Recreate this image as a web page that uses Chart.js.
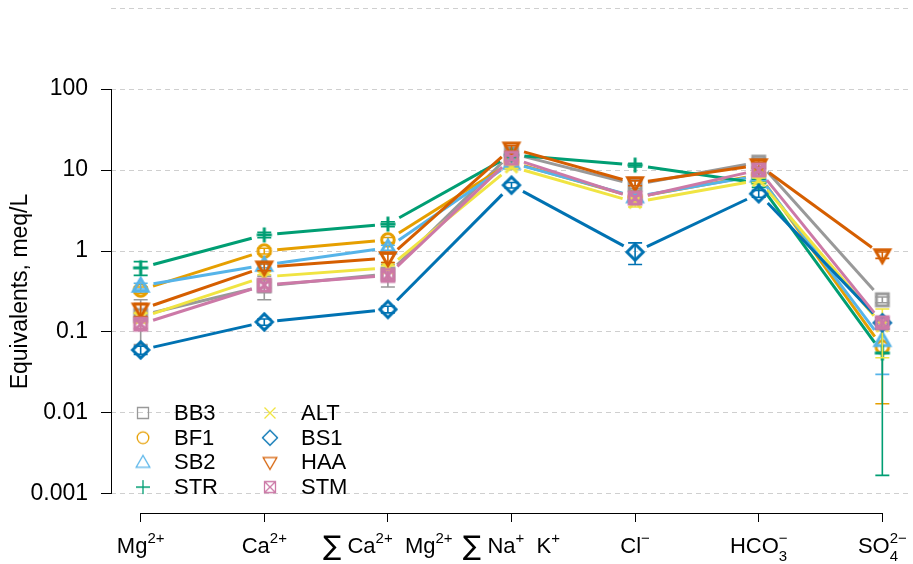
<!DOCTYPE html>
<html>
<head>
<meta charset="utf-8">
<script src="https://cdn.jsdelivr.net/npm/chart.js@4/dist/chart.umd.min.js"></script>
<style>
  html, body { margin: 0; padding: 0; background: #fff; }
  #wrap { width: 913px; height: 564px; }
</style>
</head>
<body>
<div id="wrap"><canvas id="chart" width="913" height="564"></canvas></div>
<script>
// ---------- DATA ----------
const categories = ["Mg^{2+}", "Ca^{2+}", "∑ Ca^{2+}  Mg^{2+}", "∑ Na^{+}  K^{+}", "Cl^{−}", "HCO_{3}^{−}", "SO_{4}^{2−}"];
const sites      = ["BB3", "BF1", "SB2", "STR", "ALT", "BS1", "HAA", "STM"];
const yTicks     = [0.001, 0.01, 0.1, 1, 10, 100, 1000];
const yTickText  = ["0.001", "0.01", "0.1", "1", "10", "100", ""];

// mean equivalents per site (meq/L)
const valBB3 = [0.16, 0.37, 0.52, 16.0, 6.6, 12.5, 0.25];
const valBF1 = [0.33, 1.00, 1.37, 12.5, 4.6, 8.7, 0.065];
const valSB2 = [0.37, 0.67, 1.10, 12.2, 4.7, 8.5, 0.079];
const valSTR = [0.62, 1.58, 2.15, 15.3, 11.5, 6.9, 0.055];
const valALT = [0.15, 0.48, 0.62, 11.0, 4.0, 7.5, 0.12];
const valBS1 = [0.060, 0.133, 0.19, 6.5, 0.97, 5.1, 0.13];
const valHAA = [0.19, 0.63, 0.82, 18.5, 6.9, 11.5, 0.89];
const valSTM = [0.125, 0.38, 0.50, 14.0, 4.5, 10.0, 0.13];

// standard errors
const seBB3 = [0.09, 0.12, 0.16, 2.0, 0.7, 1.5, 0.02];
const seBF1 = [0.03, 0.08, 0.10, 1.0, 0.4, 0.6, 0.052];
const seSB2 = [0.03, 0.05, 0.08, 1.0, 0.3, 0.5, 0.049];
const seSTR = [0.12, 0.12, 0.15, 1.0, 0.6, 0.8, 0.0533];
const seALT = [0.02, 0.03, 0.04, 0.6, 0.5, 0.5, 0.072];
const seBS1 = [0.007, 0.012, 0.018, 0.5, 0.29, 0.5, 0.02];
const seHAA = [0.035, 0.06, 0.10, 1.5, 0.5, 1.0, 0.08];
const seSTM = [0.015, 0.03, 0.05, 1.0, 0.3, 0.8, 0.015];

const values = [valBB3, valBF1, valSB2, valSTR, valALT, valBS1, valHAA, valSTM];
const errors = [seBB3, seBF1, seSB2, seSTR, seALT, seBS1, seHAA, seSTM];

// ---------- STYLE ----------
const colors = ["#999999", "#E69F00", "#56B4E9", "#009E73", "#F0E442", "#0072B2", "#D55E00", "#CC79A7"];
const shapes = ["square", "circle", "triUp", "plus", "cross", "diamond", "triDown", "squareX"];
const FONT = "'Liberation Sans', Arial, Helvetica, sans-serif";
const GAP = 13;

function markerCanvas(shape, color, lw, k) {
  const c = document.createElement("canvas");
  c.width = 26; c.height = 26;
  const g = c.getContext("2d");
  g.strokeStyle = color;
  g.lineWidth = lw;
  g.translate(13, 13);
  g.scale(k, k);
  g.beginPath();
  switch (shape) {
    case "square":  g.rect(-5.5, -5.5, 11, 11); break;
    case "circle":  g.arc(0, 0, 5.8, 0, Math.PI * 2); break;
    case "triUp":   g.moveTo(0, -7); g.lineTo(6.8, 4.8); g.lineTo(-6.8, 4.8); g.closePath(); break;
    case "triDown": g.moveTo(0, 7); g.lineTo(6.8, -4.8); g.lineTo(-6.8, -4.8); g.closePath(); break;
    case "plus":    g.moveTo(-7, 0); g.lineTo(7, 0); g.moveTo(0, -7); g.lineTo(0, 7); break;
    case "cross":   g.moveTo(-5.5, -5.5); g.lineTo(5.5, 5.5); g.moveTo(5.5, -5.5); g.lineTo(-5.5, 5.5); break;
    case "diamond": g.moveTo(0, -7.5); g.lineTo(7.5, 0); g.lineTo(0, 7.5); g.lineTo(-7.5, 0); g.closePath(); break;
    case "squareX":
      g.rect(-5.5, -5.5, 11, 11);
      g.moveTo(-5.5, -5.5); g.lineTo(5.5, 5.5); g.moveTo(5.5, -5.5); g.lineTo(-5.5, 5.5);
      break;
  }
  g.setTransform(1, 0, 0, 1, 0, 0);
  g.stroke();
  return c;
}

// split "HCO_{3}^{-}" into plain / sub / sup parts
function parseLabel(str) {
  const out = [];
  let i = 0;
  const isMark = k => (str[k] === "^" || str[k] === "_") && str[k + 1] === "{";
  while (i < str.length) {
    if (isMark(i)) {
      const end = str.indexOf("}", i);
      out.push({ type: str[i] === "^" ? "sup" : "sub", text: str.slice(i + 2, end) });
      i = end + 1;
    } else {
      let j = i;
      while (j < str.length && !isMark(j)) j++;
      out.push({ type: "n", text: str.slice(i, j) });
      i = j;
    }
  }
  // stack a sub directly followed by a sup, and give the sum sign its own size
  const groups = [];
  for (let k = 0; k < out.length; k++) {
    if (out[k].type === "sub" && out[k + 1] && out[k + 1].type === "sup") {
      groups.push({ type: "stack", sub: out[k].text, sup: out[k + 1].text });
      k++;
    } else if (out[k].type === "n" && out[k].text[0] === "∑") {
      groups.push({ type: "sum", text: "∑" });
      if (out[k].text.length > 1) groups.push({ type: "n", text: out[k].text.slice(1) });
    } else groups.push(out[k]);
  }
  return groups;
}

function drawRichLabel(ctx, str, cx, baseline) {
  const big = "22px " + FONT, small = "15px " + FONT, sum = "27px 'DejaVu Sans', " + FONT;
  const parts = parseLabel(str);
  const widths = parts.map(p => {
    if (p.type === "n") { ctx.font = big; return ctx.measureText(p.text).width; }
    if (p.type === "sum") { ctx.font = sum; return ctx.measureText(p.text).width; }
    ctx.font = small;
    if (p.type === "stack") return Math.max(ctx.measureText(p.sub).width, ctx.measureText(p.sup).width);
    return ctx.measureText(p.text).width;
  });
  let x = cx - widths.reduce((a, b) => a + b, 0) / 2;
  ctx.textAlign = "left";
  ctx.textBaseline = "alphabetic";
  parts.forEach((p, k) => {
    if (p.type === "n") { ctx.font = big; ctx.fillText(p.text, x, baseline); }
    else if (p.type === "sum") { ctx.font = sum; ctx.fillText(p.text, x, baseline + 2); }
    else if (p.type === "sup") { ctx.font = small; ctx.fillText(p.text, x, baseline - 10); }
    else if (p.type === "sub") { ctx.font = small; ctx.fillText(p.text, x, baseline + 7); }
    else { ctx.font = small; ctx.fillText(p.sup, x, baseline - 10); ctx.fillText(p.sub, x, baseline + 8); }
    x += widths[k];
  });
}

// lines with gaps round the points (R type = "b") and error bars
const typeB = {
  id: "typeB",
  beforeDatasetDraw(chart, args) {
    const ds  = chart.data.datasets[args.index];
    const pts = args.meta.data;
    const ctx = chart.ctx;
    ctx.save();
    ctx.strokeStyle = ds.borderColor;
    ctx.lineWidth = 3;
    for (let k = 0; k < pts.length - 1; k++) {
      const a = pts[k], b = pts[k + 1];
      const dx = b.x - a.x, dy = b.y - a.y, L = Math.hypot(dx, dy);
      if (L <= 2 * GAP) continue;
      const ux = dx / L, uy = dy / L;
      ctx.beginPath();
      ctx.moveTo(a.x + ux * GAP, a.y + uy * GAP);
      ctx.lineTo(b.x - ux * GAP, b.y - uy * GAP);
      ctx.stroke();
    }
    ctx.restore();
  },
  afterDatasetDraw(chart, args) {
    const ds  = chart.data.datasets[args.index];
    const ys  = chart.scales.y;
    const ctx = chart.ctx;
    ctx.save();
    ctx.strokeStyle = ds.borderColor;
    ctx.lineWidth = 1.6;
    args.meta.data.forEach((pt, k) => {
      const v = ds.data[k].y, s = ds.se[k];
      const top = ys.getPixelForValue(v + s);
      const bot = ys.getPixelForValue(Math.max(v - s, 1e-6));
      ctx.beginPath();
      ctx.moveTo(pt.x, top); ctx.lineTo(pt.x, bot);
      ctx.moveTo(pt.x - 7, top); ctx.lineTo(pt.x + 7, top);
      ctx.moveTo(pt.x - 7, bot); ctx.lineTo(pt.x + 7, bot);
      ctx.stroke();
    });
    ctx.restore();
  }
};

// axes lines, category labels, y title, legend
const decor = {
  id: "decor",
  afterDraw(chart) {
    const ctx = chart.ctx, xs = chart.scales.x, ys = chart.scales.y, area = chart.chartArea;
    ctx.save();
    ctx.strokeStyle = "#000";
    ctx.lineWidth = 1;
    ctx.beginPath();
    ctx.moveTo(xs.getPixelForValue(0), area.bottom + 0.5);
    ctx.lineTo(xs.getPixelForValue(categories.length - 1), area.bottom + 0.5);
    ctx.moveTo(area.left + 0.5, ys.getPixelForValue(yTicks[0]));
    ctx.lineTo(area.left + 0.5, ys.getPixelForValue(yTicks[yTicks.length - 2]));
    ctx.stroke();

    ctx.fillStyle = "#000";
    categories.forEach((c, i) => drawRichLabel(ctx, c, xs.getPixelForValue(i), 553));

    // y title
    ctx.save();
    ctx.translate(21, (ys.getPixelForValue(yTicks[0]) + ys.getPixelForValue(yTicks[yTicks.length - 2])) / 2);
    ctx.rotate(-Math.PI / 2);
    ctx.font = "23px " + FONT;
    ctx.textAlign = "center";
    ctx.textBaseline = "middle";
    ctx.fillText("Equivalents, meq/L", 0, 0);
    ctx.restore();

    // legend, two columns
    ctx.font = "22px " + FONT;
    ctx.textAlign = "left";
    ctx.textBaseline = "middle";
    sites.forEach((name, i) => {
      const col = Math.floor(i / 4), row = i % 4;
      const sx = 143 + col * 127, sy = 413 + row * 24.7;
      const m = markerCanvas(shapes[i], colors[i], 1.3, 1);
      ctx.drawImage(m, sx - 13, sy - 13);
      ctx.fillText(name, sx + 31, sy + 1);
    });
    ctx.restore();
  }
};

const datasets = sites.map((name, i) => ({
  label: name,
  data: values[i].map((v, j) => ({ x: j, y: v })),
  se: errors[i],
  showLine: false,
  borderColor: colors[i],
  backgroundColor: colors[i],
  pointStyle: markerCanvas(shapes[i], colors[i], 3, 1.08),
  pointRadius: 6,
  order: sites.length - 1 - i
}));

new Chart(document.getElementById("chart").getContext("2d"), {
  type: "scatter",
  data: { datasets },
  plugins: [typeB, decor],
  options: {
    responsive: false,
    animation: false,
    events: [],
    layout: { autoPadding: false, padding: { left: 0, right: 1, top: 0, bottom: 0 } },
    plugins: { legend: { display: false }, tooltip: { enabled: false } },
    scales: {
      x: {
        type: "linear",
        min: -0.24, max: 6.24,
        bounds: "data",
        afterBuildTicks: s => { s.ticks = categories.map((c, i) => ({ value: i })); },
        afterFit: s => { s.height = 51; s.paddingLeft = 0; s.paddingRight = 0; },
        ticks: { display: false },
        border: { display: false },
        grid: { drawOnChartArea: false, drawTicks: true, tickLength: 9, tickColor: "#000", tickWidth: 1 }
      },
      y: {
        type: "logarithmic",
        min: Math.pow(10, -3.2346), max: Math.pow(10, 3.0988),
        bounds: "data",
        afterBuildTicks: s => { s.ticks = yTicks.map(v => ({ value: v })); },
        afterFit: s => { s.width = 111; s.paddingTop = 0; s.paddingBottom = 0; },
        ticks: {
          callback: (v, i) => yTickText[i],
          color: "#000",
          padding: 13,
          font: { family: FONT, size: 23 }
        },
        border: { display: false, dash: [5, 4] },
        grid: {
          color: "#cfcfcf",
          lineWidth: 1,
          drawTicks: true,
          tickLength: 10,
          tickWidth: 1,
          tickBorderDash: [],
          tickColor: c => (c.tick && c.tick.value >= 1000 ? "rgba(0,0,0,0)" : "#000")
        }
      }
    }
  }
});
</script>
</body>
</html>
